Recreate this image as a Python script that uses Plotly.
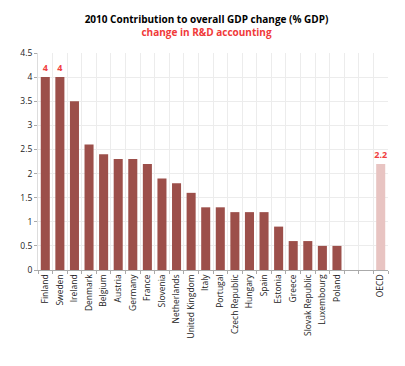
import plotly.graph_objects as go

categories = ["Finland", "Sweden", "Ireland", "Denmark", "Belgium", "Austria", "Germany",
              "France", "Slovenia", "Netherlands", "United Kingdom", "Italy", "Portugal",
              "Czech Republic", "Hungary", "Spain", "Estonia", "Greece", "Slovak Republic",
              "Luxembourg", "Poland", " ", "  ", "OECD"]
values = [4, 4, 3.5, 2.6, 2.4, 2.3, 2.3, 2.2, 1.9, 1.8, 1.6, 1.3, 1.3, 1.2, 1.2, 1.2,
          0.9, 0.6, 0.6, 0.5, 0.5, None, None, 2.2]
labels = ["4", "4"] + [""] * 21 + ["2.2"]

colors = ["#9c4f4a"] * 23 + ["#e8c4c2"]

fig = go.Figure(go.Bar(
    x=categories, y=values, marker=dict(color=colors, line=dict(width=0)),
    text=[f"<b>{t}</b>" if t else "" for t in labels],
    textposition="outside", cliponaxis=False, constraintext="none",
    textfont=dict(color="#f04040", size=9, family="Open Sans"),
    width=0.62,
))

fig.update_layout(
    width=397, height=358, paper_bgcolor="white", plot_bgcolor="white",
    margin=dict(l=26, r=17, t=45, b=96),
    showlegend=False,
    title=dict(
        text="<b>2010 Contribution to overall GDP change (% GDP)</b><br>"
             "<span style='color:#f03a3a'><b>change in R&amp;D accounting</b></span>",
        x=0.5, xanchor="center", y=0.957, yanchor="top",
        font=dict(family="Open Sans", size=10, color="black"),
    ),
    font=dict(family="Open Sans", size=8, color="#222"),
)
fig.update_xaxes(
    type="category", tickangle=-90, tickson="boundaries", showgrid=True,
    gridcolor="#ececec", gridwidth=1, ticks="outside", ticklen=3, tickcolor="#aaa",
    showline=True, linecolor="#aaa", tickfont=dict(size=8.5, family="Open Sans", color="#222"),
)
fig.update_yaxes(
    range=[0, 4.5], dtick=0.5, showgrid=True, gridcolor="#ececec",
    ticks="outside", ticklen=3, tickcolor="#aaa", showline=True, linecolor="#ddd",
    tickfont=dict(size=8.5, family="Open Sans", color="#222"), zeroline=False,
)

fig.write_html("out.html")
